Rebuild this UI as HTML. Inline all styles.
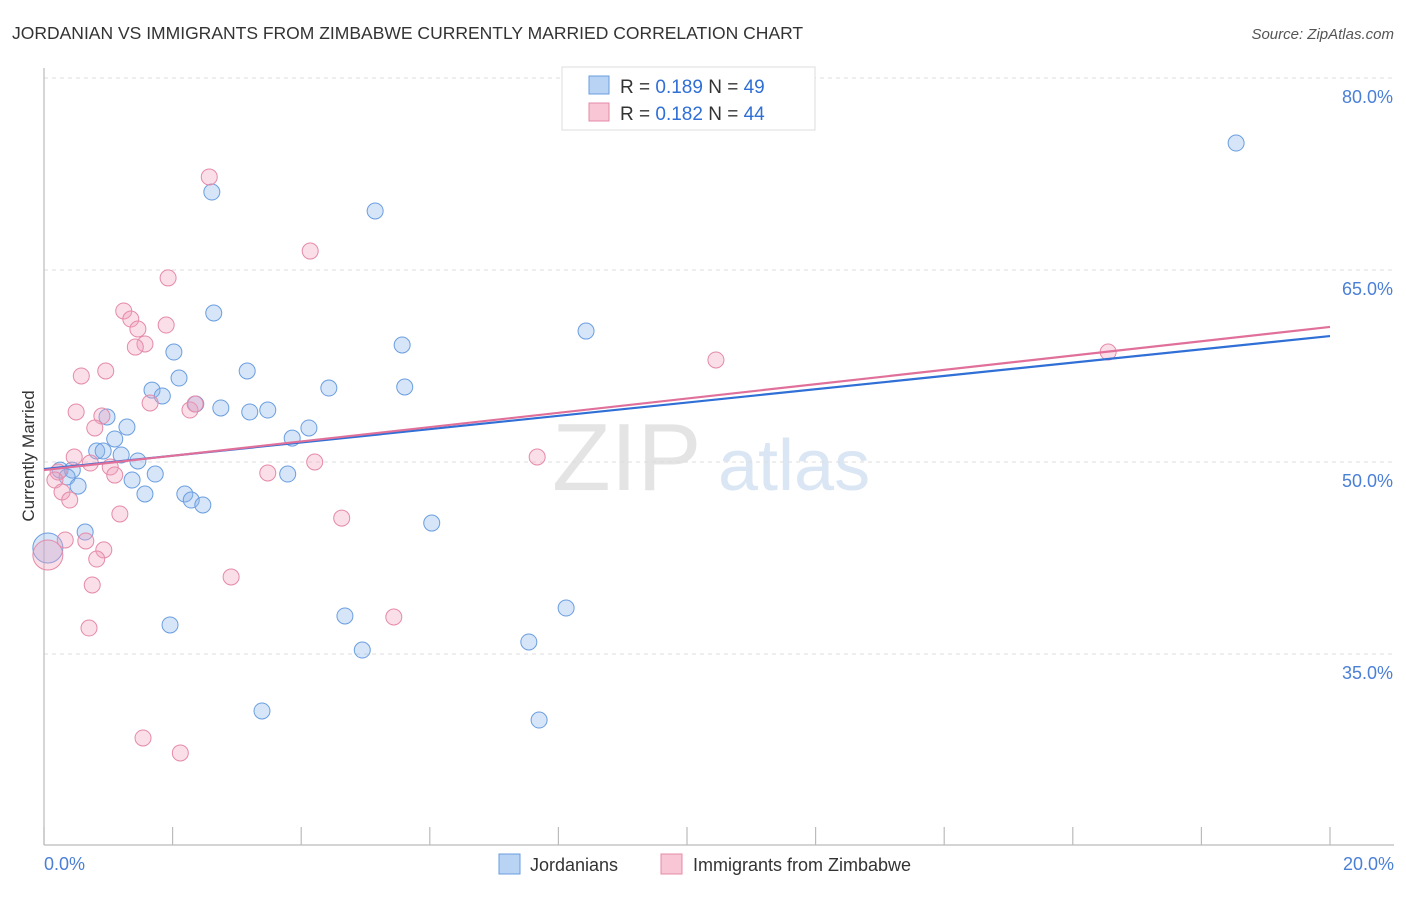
<!DOCTYPE html>
<html><head><meta charset="utf-8"><style>
body{margin:0;background:#fff;font-family:"Liberation Sans",sans-serif}
svg text{font-family:"Liberation Sans",sans-serif}
</style></head><body>
<svg id="chart" width="1406" height="892" xmlns="http://www.w3.org/2000/svg">
<text x="12" y="39" font-size="17.5" fill="#333">JORDANIAN VS IMMIGRANTS FROM ZIMBABWE CURRENTLY MARRIED CORRELATION CHART</text>
<text x="1394" y="39" font-size="15" font-style="italic" fill="#555" text-anchor="end">Source: ZipAtlas.com</text>
<g>
<text x="552" y="490" font-size="96" font-family="Liberation Serif" fill="#e4e4e4">ZIP</text>
<text x="718" y="490" font-size="72" fill="#dbe6f5">atlas</text>
</g>
<g id="grid"></g>
<line x1="44" y1="68" x2="44" y2="845" stroke="#bbb" stroke-width="1.2"/>
<line x1="44" y1="845" x2="1394" y2="845" stroke="#bbb" stroke-width="1.2"/>
<g id="xticks"></g>
<text transform="translate(34,456) rotate(-90)" font-size="17" fill="#333" text-anchor="middle">Currently Married</text>
<text x="44" y="870" font-size="18" fill="#4a7fd6">0.0%</text>
<text x="1394" y="870" font-size="18" fill="#4a7fd6" text-anchor="end">20.0%</text>
<g id="pts"></g>
<g id="lines"></g>
<g>
<rect x="562" y="67" width="253" height="63" fill="#fff" stroke="#ddd"/>
<rect x="589" y="76" width="20" height="18" fill="#b9d3f5" stroke="#6a9ee0"/>
<text x="620" y="93" font-size="19" fill="#333">R = <tspan fill="#2f6fd6">0.189</tspan>   N = <tspan fill="#2f6fd6">49</tspan></text>
<rect x="589" y="103" width="20" height="18" fill="#f8c6d5" stroke="#e58aa8"/>
<text x="620" y="120" font-size="19" fill="#333">R = <tspan fill="#2f6fd6">0.182</tspan>   N = <tspan fill="#2f6fd6">44</tspan></text>
</g>
<g>
<rect x="499" y="854" width="21" height="20" fill="#b9d3f5" stroke="#6a9ee0"/>
<text x="530" y="871" font-size="18" fill="#333">Jordanians</text>
<rect x="661" y="854" width="21" height="20" fill="#f8c6d5" stroke="#e58aa8"/>
<text x="693" y="871" font-size="18" fill="#333">Immigrants from Zimbabwe</text>
</g>
</svg>
<script>
const yTicks=[80,65,50,35];
const yTickLabels=["80.0%","65.0%","50.0%","35.0%"];
const xTicks=[0,2,4,6,8,10,12,14,16,18,20];
const blueX=[18.54,2.61,5.15,2.64,8.43,2.02,5.57,3.16,2.10,1.68,5.61,4.43,1.84,2.36,2.75,3.20,3.48,0.98,1.29,4.12,3.86,1.10,0.82,0.92,1.20,1.46,0.25,0.44,0.36,0.53,1.73,1.37,3.79,1.57,2.19,2.29,2.47,6.03,0.64,0.06,8.12,4.68,1.96,7.54,4.95,3.39,7.70];
const blueY=[74.92,71.09,69.61,61.64,60.23,58.59,59.14,57.11,56.56,55.62,55.86,55.78,55.16,54.53,54.22,53.91,54.06,53.52,52.73,52.66,51.87,51.80,50.86,50.86,50.55,50.08,49.37,49.37,48.83,48.12,49.06,48.59,49.06,47.5,47.5,47.03,46.64,45.23,44.53,43.28,38.59,37.97,37.27,35.94,35.31,30.55,29.84];
const blueR=[8,8,8,8,8,8,8,8,8,8,8,8,8,8,8,8,8,8,8,8,8,8,8,8,8,8,8,8,8,8,8,8,8,8,8,8,8,8,8,15,8,8,8,8,8,8,8];
const pinkX=[2.57,4.14,1.93,1.24,1.35,1.90,1.46,10.45,16.55,1.57,1.42,0.58,0.96,1.65,2.27,2.35,0.50,0.90,0.79,0.47,0.72,1.03,1.10,3.48,4.21,7.67,0.22,0.17,0.28,0.40,1.18,4.63,0.33,0.65,0.93,0.82,0.06,2.91,0.75,5.44,0.70,1.54,2.12];
const pinkY=[72.27,66.48,64.38,61.80,61.17,60.70,60.39,57.97,58.59,59.22,58.98,56.72,57.11,54.61,54.06,54.53,53.91,53.59,52.66,50.39,49.92,49.61,48.98,49.14,50.0,50.39,49.22,48.59,47.66,47.03,45.94,45.62,43.91,43.83,43.13,42.42,42.73,41.02,40.39,37.89,37.03,28.44,27.27];
const pinkR=[8,8,8,8,8,8,8,8,8,8,8,8,8,8,8,8,8,8,8,8,8,8,8,8,8,8,8,8,8,8,8,8,8,8,8,8,15,8,8,8,8,8,8];
const blueLine=[49.45,59.84];
const pinkLine=[49.37,60.55];
const sx=v=>44+v*64.3, sy=v=>78+(80-v)*12.8;
const NS="http://www.w3.org/2000/svg";
function mk(t,a,p){const e=document.createElementNS(NS,t);for(const k in a)e.setAttribute(k,a[k]);p.appendChild(e);return e;}
const grid=document.getElementById('grid');
yTicks.forEach((v,i)=>{
 const l=mk('line',{x1:44,x2:1394,y1:sy(v),y2:sy(v),stroke:'#ddd','stroke-dasharray':'4,4'},grid);
 
 
 const t=mk('text',{x:1393,y:sy(v)+25,'font-size':18,fill:'#4a7fd6','text-anchor':'end'},grid);
 t.textContent=yTickLabels[i];
 
 
});
const xt=document.getElementById('xticks');
xTicks.forEach(v=>{
 const l=mk('line',{x1:sx(v),x2:sx(v),y1:827,y2:845,stroke:'#bbb','stroke-width':1.2},xt);
 
 
});
const pts=document.getElementById('pts');
blueX.forEach((x,i)=>{
 const c=mk('circle',{cx:sx(x),cy:sy(blueY[i]),r:blueR[i],fill:'rgba(140,180,235,0.35)',stroke:'#6a9ee0','stroke-width':1},pts);
 
 
});
pinkX.forEach((x,i)=>{
 const c=mk('circle',{cx:sx(x),cy:sy(pinkY[i]),r:pinkR[i],fill:'rgba(240,160,190,0.35)',stroke:'#e58aa8','stroke-width':1},pts);
 
 
});
const lines=document.getElementById('lines');
const bl=mk('line',{x1:sx(0),y1:sy(blueLine[0]),x2:sx(20),y2:sy(blueLine[1]),stroke:'#2f6fd6','stroke-width':2.2},lines);


const pl=mk('line',{x1:sx(0),y1:sy(pinkLine[0]),x2:sx(20),y2:sy(pinkLine[1]),stroke:'#e0709a','stroke-width':2.2},lines);


</script>
</body></html>
